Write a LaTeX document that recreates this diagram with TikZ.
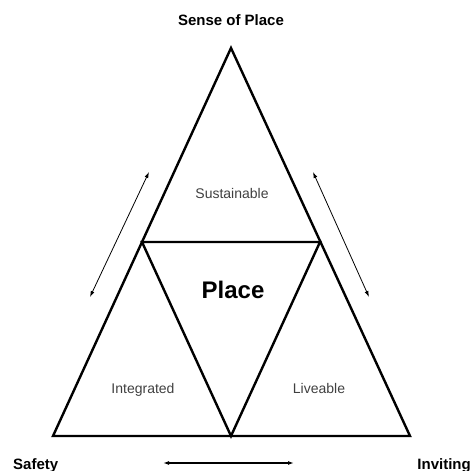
\documentclass[tikz,border=0pt]{standalone}
\usepackage{fontspec}
\setmainfont{Liberation Sans}
\usetikzlibrary{arrows.meta}
\begin{document}
\begin{tikzpicture}[x=1pt,y=-1pt,
  lado/.style={line width=2.4pt,line join=miter},
  seta/.style={line width=0.8pt,{Latex[length=6pt,width=4pt]}-{Latex[length=6pt,width=4pt]}},
  titulo/.style={font=\fontsize{15}{15}\selectfont\bfseries,inner sep=0pt},
  rotulo/.style={font=\fontsize{14}{14}\selectfont,text=black!75,inner sep=0pt}]

\useasboundingbox (0,0) rectangle (472,471);

% vertices
\coordinate (topo) at (231,48);
\coordinate (esq) at (53,436);
\coordinate (dir) at (410,436);
\coordinate (meioesq) at (142,242);
\coordinate (meiodir) at (320,242);
\coordinate (baixo) at (231,436);

% triangulos
\draw[lado] (topo) -- (dir) -- (esq) -- cycle;
\draw[lado] (meioesq) -- (meiodir) -- (baixo) -- cycle;

% setas
\coordinate (a1) at (90,297);
\coordinate (a2) at (149,172);
\coordinate (b1) at (313,172);
\coordinate (b2) at (369,297);
\coordinate (c1) at (163,463);
\coordinate (c2) at (294,463);
\draw[seta] (a1) -- (a2);
\draw[seta] (b1) -- (b2);
\draw[seta,line width=1.2pt] (c1) -- (c2);

% textos
\node[titulo,anchor=base] (sentido) at (231,26) {Sense of Place};
\node[titulo,anchor=base west] (seguranca) at (13,469) {Safety};
\node[titulo,anchor=base east] (convite) at (471,469) {Inviting};
\node[rotulo,anchor=base] (sustentavel) at (232,198) {Sustainable};
\node[inner sep=0pt,anchor=base,font=\fontsize{24}{24}\selectfont\bfseries] (lugar) at (233,298) {Place};
\node[rotulo,anchor=base] (integrado) at (143,393) {Integrated};
\node[rotulo,anchor=base] (habitavel) at (319,393) {Liveable};

\end{tikzpicture}
\end{document}
